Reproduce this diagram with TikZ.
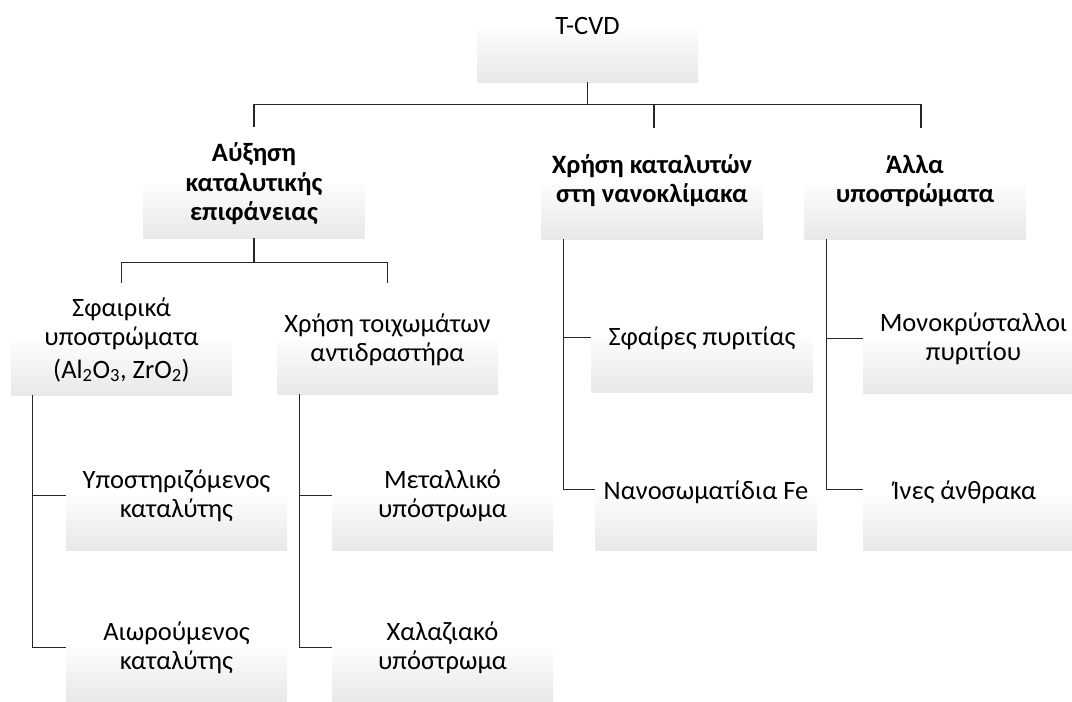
\documentclass[tikz,border=0pt]{standalone}
\usepackage{fontspec}
\setmainfont{Carlito}
\usepackage{tikz}
\usetikzlibrary{calc}

\tikzset{
  shadebox/.style={rectangle, draw=none, inner sep=0pt,
    minimum width=221pt, minimum height=54pt,
    top color=gray!2, bottom color=gray!18},
  boxtext/.style={align=center, inner sep=0pt,
    font=\fontsize{26.5}{29.5}\selectfont},
  headtext/.style={boxtext, font=\fontsize{26.5}{29.5}\selectfont\bfseries},
  link/.style={line width=1.2pt, black!85}
}

\begin{document}
\begin{tikzpicture}[x=1pt,y=-1pt]

    % Page frame
    \useasboundingbox (0,0) rectangle (1072,702);
    \clip (0,0) rectangle (1072,702);

    % Root
    \node[shadebox] (tcvd) at (587.5,55) {};
    \node[boxtext] (tcvdtext) at ([yshift=2pt]tcvd.north) {T-CVD};

    % First level
    \node[shadebox] (aux) at (254,211) {};
    \node[headtext] (auxtext) at (aux.north) {Αύξηση\\καταλυτικής\\επιφάνειας};
    \node[shadebox] (nano) at (652,212) {};
    \node[headtext] (nanotext) at ([yshift=4pt]nano.north) {Χρήση καταλυτών\\στη νανοκλίμακα};
    \node[shadebox] (alla) at (915,212) {};
    \node[headtext] (allatext) at ([yshift=4pt]alla.north) {Άλλα\\υποστρώματα};

    % Second level under the surface branch
    \node[shadebox] (sfair) at (121.5,368) {};
    \node[boxtext] (sfairtext) at ([yshift=1pt]sfair.north) {Σφαιρικά\\υποστρώματα\\[3pt](Al\textsubscript{2}O\textsubscript{3}, ZrO\textsubscript{2})};
    \node[shadebox] (wall) at (387.5,367) {};
    \node[boxtext] (walltext) at (wall.north) {Χρήση τοιχωμάτων\\αντιδραστήρα};

    % Leaves
    \node[shadebox] (ypost) at (176.5,523) {};
    \node[boxtext] (yposttext) at (ypost.north) {Υποστηριζόμενος\\καταλύτης};
    \node[shadebox] (aior) at (176.5,675) {};
    \node[boxtext] (aiortext) at (aior.north) {Αιωρούμενος\\καταλύτης};
    \node[shadebox] (metal) at (442.5,523) {};
    \node[boxtext] (metaltext) at (metal.north) {Μεταλλικό\\υπόστρωμα};
    \node[shadebox] (xalaz) at (442.5,675) {};
    \node[boxtext] (xalaztext) at (xalaz.north) {Χαλαζιακό\\υπόστρωμα};
    \node[shadebox] (sfaires) at (702,365) {};
    \node[boxtext] (sfairestext) at (sfaires.north) {Σφαίρες πυριτίας};
    \node[shadebox] (nanos) at (706,523) {};
    \node[boxtext] (nanostext) at ([yshift=4pt]nanos.north) {Νανοσωματίδια Fe};
    \node[shadebox] (mono) at (973.5,366) {};
    \node[boxtext] (monotext) at (mono.north) {Μονοκρύσταλλοι\\πυριτίου};
    \node[shadebox] (ines) at (973.5,523) {};
    \node[boxtext] (inestext) at ([xshift=-9pt,yshift=4pt]ines.north) {Ίνες άνθρακα};

    % Root connectors
    \draw[link] (tcvd.south) -- ++(0,22) coordinate (bus) -| ([yshift=57pt]aux.north);
    \draw[link] (bus) -| ([xshift=2pt,yshift=57pt]nano.north);
    \draw[link] (bus) -| ([xshift=6pt,yshift=57pt]alla.north);

    % Surface branch connectors
    \draw[link] (aux.south) -- ++(0,24) coordinate (auxbus) -| ([yshift=58pt]sfair.north);
    \draw[link] (auxbus) -| ([yshift=57pt]wall.north);

    % Side connectors
    \draw[link] ([xshift=22pt]sfair.south west) |- (ypost.north west);
    \draw[link] ([xshift=22pt]sfair.south west) |- (aior.north west);
    \draw[link] ([xshift=23pt]wall.south west) |- (metal.north west);
    \draw[link] ([xshift=23pt]wall.south west) |- (xalaz.north west);
    \draw[link] ([xshift=22pt]nano.south west) |- (sfaires.north west);
    \draw[link] ([xshift=22pt]nano.south west) |- ([yshift=6pt]nanos.north west);
    \draw[link] ([xshift=22pt]alla.south west) |- (mono.north west);
    \draw[link] ([xshift=22pt]alla.south west) |- ([yshift=6pt]ines.north west);

\end{tikzpicture}
\end{document}
